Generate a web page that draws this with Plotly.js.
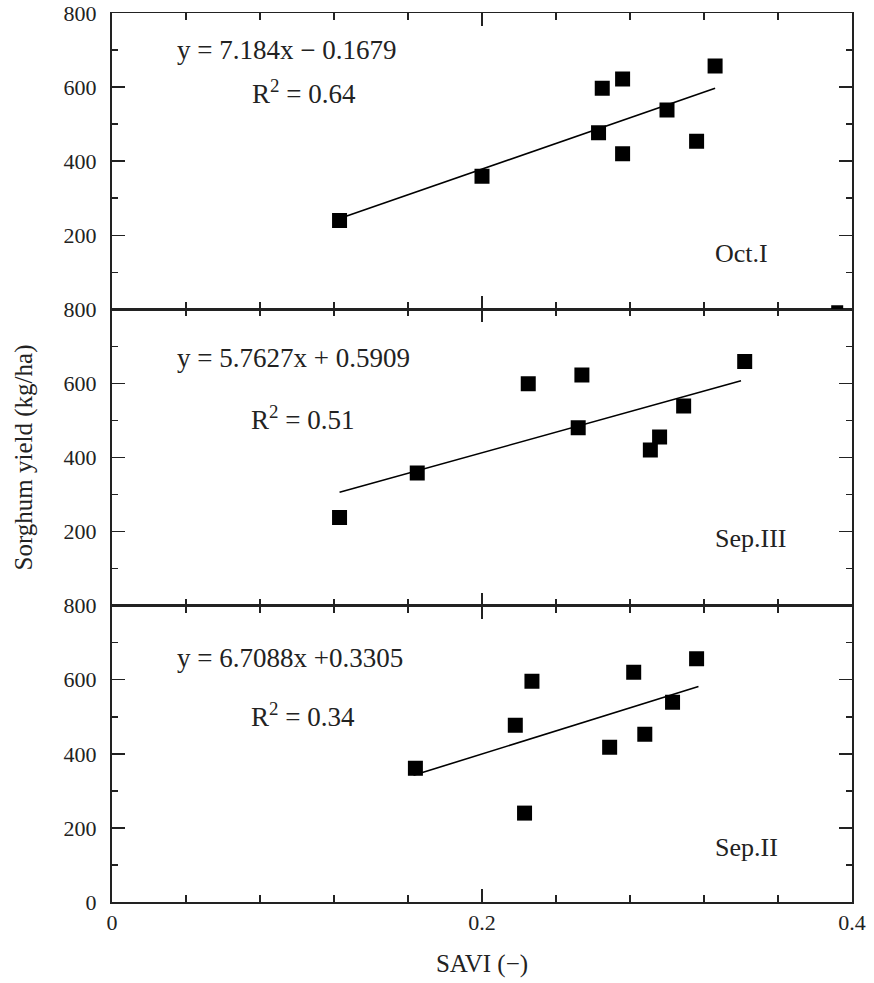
<!DOCTYPE html>
<html>
<head>
<meta charset="utf-8">
<script src="https://cdn.plot.ly/plotly-3.0.1.min.js"></script>
<style>html,body{margin:0;padding:0;background:#fff;}#chart{width:874px;height:983px;}</style>
</head>
<body>
<div id="chart"></div>
<script>
// Sorghum yield (kg/ha) vs SAVI for three image dates
const panelNames = ["Oct.I", "Sep.III", "Sep.II"];
const equations = ["y = 7.184x \u2212 0.1679", "y = 5.7627x + 0.5909", "y = 6.7088x +0.3305"];
const r2Labels = ["R<sup>2</sup> = 0.64", "R<sup>2</sup> = 0.51", "R<sup>2</sup> = 0.34"];

const octI_savi  = [0.123, 0.200, 0.265, 0.276, 0.263, 0.276, 0.300, 0.316, 0.326];
const octI_yield = [240, 359, 597, 622, 477, 420, 538, 454, 657];
const octI_fitX  = [0.123, 0.326];
const octI_fitY  = [245, 597];

const sepIII_savi  = [0.123, 0.165, 0.225, 0.254, 0.252, 0.291, 0.296, 0.309, 0.342];
const sepIII_yield = [238, 358, 599, 623, 480, 420, 455, 539, 659];
const sepIII_fitX  = [0.123, 0.340];
const sepIII_fitY  = [306, 607];

const sepII_savi  = [0.164, 0.227, 0.218, 0.223, 0.269, 0.282, 0.288, 0.303, 0.316];
const sepII_yield = [361, 596, 477, 240, 418, 620, 453, 539, 657];
const sepII_fitX  = [0.163, 0.317];
const sepII_fitY  = [342, 582];

// small clipped mark at the top-right of the Oct.I panel bottom edge
const strayX = [0.392];
const strayY = [-5];

const yTickTop = [200, 400, 600, 800];
const yTickBottom = [0, 200, 400, 600, 800];

const F = "Liberation Serif, Times New Roman, serif";
const ink = "#000";

function pts(x, y, xa, ya) {
  return {x: x, y: y, xaxis: xa, yaxis: ya, type: "scatter", mode: "markers",
    marker: {symbol: "square", size: 15, color: ink}, showlegend: false, hoverinfo: "x+y"};
}
function fit(x, y, xa, ya) {
  return {x: x, y: y, xaxis: xa, yaxis: ya, type: "scatter", mode: "lines",
    line: {color: ink, width: 1.6}, showlegend: false, hoverinfo: "skip"};
}

const data = [
  fit(octI_fitX, octI_fitY, "x3", "y3"),
  pts(octI_savi, octI_yield, "x3", "y3"),
  {x: strayX, y: strayY, xaxis: "x3", yaxis: "y3", type: "scatter", mode: "markers",
   marker: {symbol: "square", size: 12, color: ink}, showlegend: false, hoverinfo: "skip"},
  fit(sepIII_fitX, sepIII_fitY, "x2", "y2"),
  pts(sepIII_savi, sepIII_yield, "x2", "y2"),
  fit(sepII_fitX, sepII_fitY, "x", "y"),
  pts(sepII_savi, sepII_yield, "x", "y")
];

function xax(anchor, labels) {
  return {
    anchor: anchor, range: [0, 0.4], tickmode: "linear", tick0: 0, dtick: 0.2,
    ticks: "inside", ticklen: 13, tickwidth: 1.5, tickcolor: "#222",
    minor: {tickmode: "linear", tick0: 0, dtick: 0.04, ticks: "inside", ticklen: 7, tickwidth: 1.5, tickcolor: "#222"},
    showline: true, linecolor: "#222", linewidth: 1.5, mirror: "ticks",
    showgrid: false, zeroline: false, showticklabels: labels,
    tickfont: {family: F, size: 22, color: "#222"}, fixedrange: true
  };
}
function yax(anchor, domain, vals) {
  return {
    anchor: anchor, domain: domain, range: [0, 800], tickvals: vals,
    ticks: "inside", ticklen: 13, tickwidth: 1.5, tickcolor: "#222",
    minor: {tickmode: "linear", tick0: 0, dtick: 100, ticks: "inside", ticklen: 6, tickwidth: 1.5, tickcolor: "#222"},
    showline: true, linecolor: "#222", linewidth: 2, mirror: "ticks",
    showgrid: false, zeroline: false, ticklabelstandoff: 9,
    tickfont: {family: F, size: 22, color: "#222"}, fixedrange: true
  };
}

const layout = {
  width: 874, height: 983,
  margin: {l: 112, r: 22, t: 13, b: 81},
  paper_bgcolor: "#fff", plot_bgcolor: "#fff",
  showlegend: false,
  xaxis: Object.assign(xax("y", true), {title: {text: "SAVI (\u2212)", font: {family: F, size: 25, color: "#222"}, standoff: 20}}),
  xaxis2: xax("y2", false),
  xaxis3: xax("y3", false),
  yaxis: yax("x", [0, 1/3], yTickBottom),
  yaxis2: Object.assign(yax("x2", [1/3, 2/3], yTickTop), {title: {text: "Sorghum yield (kg/ha)", font: {family: F, size: 25, color: "#222"}, standoff: 24}}),
  yaxis3: yax("x3", [2/3, 1], yTickTop),
  annotations: []
};

const annAxes = [["x3", "y3"], ["x2", "y2"], ["x", "y"]];
const eqPos = [[0.0944, 700], [0.098, 669], [0.096, 660]];
const r2Pos = [[0.104, 586], [0.103, 507], [0.103, 504]];
const namePos = [[0.3405, 151], [0.345, 182], [0.343, 146]];
for (let i = 0; i < 3; i++) {
  const [xa, ya] = annAxes[i];
  layout.annotations.push({xref: xa, yref: ya, x: eqPos[i][0], y: eqPos[i][1], text: equations[i], showarrow: false,
    font: {family: F, size: 27, color: "#222"}});
  layout.annotations.push({xref: xa, yref: ya, x: r2Pos[i][0], y: r2Pos[i][1], text: r2Labels[i], showarrow: false,
    font: {family: F, size: 27, color: "#222"}});
  layout.annotations.push({xref: xa, yref: ya, x: namePos[i][0], y: namePos[i][1], text: panelNames[i], showarrow: false,
    font: {family: F, size: 26, color: "#222"}});
}

Plotly.newPlot("chart", data, layout, {displayModeBar: false, staticPlot: true});
</script>
</body>
</html>
